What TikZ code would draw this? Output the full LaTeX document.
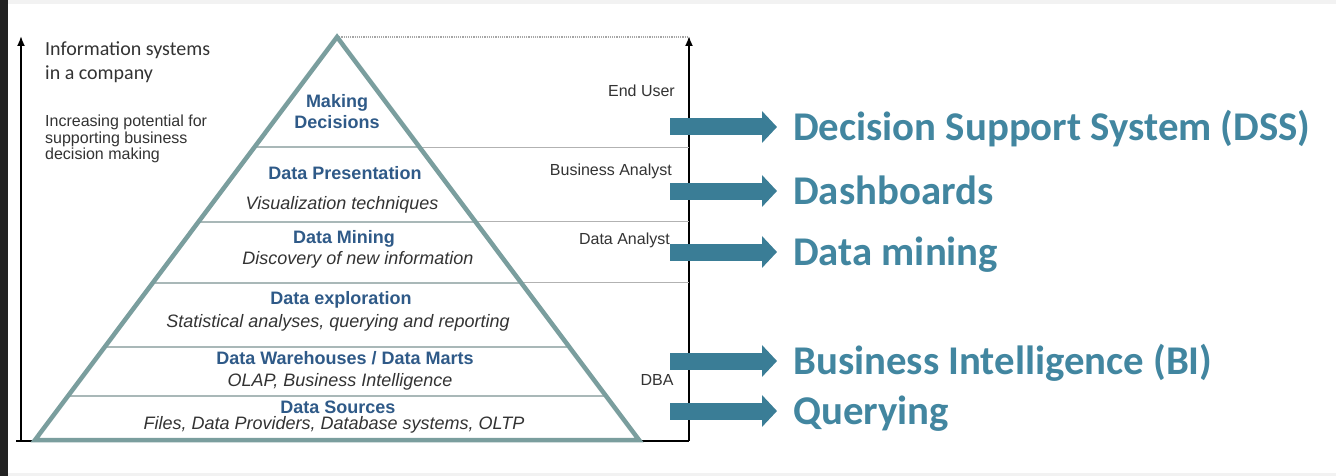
\documentclass[tikz,border=0pt]{standalone}
\usepackage{fontspec}
\setmainfont{Liberation Sans}
\newfontfamily\calfont{Carlito}
\usetikzlibrary{arrows.meta,calc}

\definecolor{pyrgray}{HTML}{7A9E9E}
\definecolor{sepgray}{HTML}{A9B8B8}
\definecolor{lvlblue}{HTML}{2F5A88}
\definecolor{arrteal}{HTML}{3A7D96}
\definecolor{txtteal}{HTML}{4286A0}
\definecolor{txtgray}{HTML}{333333}
\definecolor{framegray}{HTML}{F2F2F2}
\definecolor{framedark}{HTML}{222222}

\begin{document}
\begin{tikzpicture}[x=1pt,y=-1pt,
  pyr/.style={draw=pyrgray, line width=4.5pt},
  sepline/.style={draw=sepgray, line width=1.8pt},
  rowline/.style={draw=gray!60, line width=1pt},
  dotline/.style={draw=gray!70, line width=1.2pt, densely dotted},
  axis/.style={draw=black, line width=1.8pt, -{Latex[length=10pt,width=8pt]}},
  ground/.style={draw=black, line width=1.8pt},
  blkarr/.style={draw=arrteal, line width=17pt, -{Triangle[length=15pt,width=31pt]}},
  lvl/.style={font=\bfseries\fontsize{18}{21}\selectfont, text=lvlblue},
  lvltxt/.style={font=\itshape\fontsize{18}{21}\selectfont, text=txtgray},
  role/.style={font=\fontsize{16}{18}\selectfont, text=txtgray, inner sep=0pt},
  rlbl/.style={anchor=west, inner sep=0pt, text=txtteal,
    font=\calfont\bfseries\fontsize{40.8}{48}\selectfont, text height=32pt, text depth=5pt}]

\useasboundingbox (0,0) rectangle (1336,476);
\fill[white] (0,0) rectangle (1336,476);
\fill[framegray] (0,0) rectangle (1336,4);
\fill[framegray] (0,473) rectangle (1336,476);
\fill[framedark] (0,0) rectangle (8,476);

\coordinate (apex) at (337,37);
\coordinate (bl) at (35,440);
\coordinate (br) at (639,440);
\coordinate (stub) at (16,441);
\coordinate (lbot) at (21,441);
\coordinate (ltop) at (21,36);
\coordinate (rbot) at (689,441);
\coordinate (rtop) at (689,36);

\draw[ground] (stub) -- (rbot);
\draw[axis] (lbot) -- (ltop); % left axis
\draw[axis] (rbot) -- (rtop); % right axis
\draw[dotline] (apex) -- (apex -| rtop);

% rows of the pyramid
\foreach \t in {0.273,0.459,0.6104,0.769,0.891}{
  \draw[sepline] ($(apex)!\t!(bl)$) -- ($(apex)!\t!(br)$);
}
\foreach \t in {0.273,0.459,0.6104}{
  \coordinate (e) at ($(apex)!\t!(br)$);
  \draw[rowline] (e) -- (e -| rtop);
}
\draw[pyr] (apex) -- (br) -- (bl) -- cycle;

\node[anchor=west, align=left, inner sep=0pt, text=txtgray,
  font=\calfont\fontsize{20}{24}\selectfont] (info) at (45,62)
  {Information systems\\in a company};
\node[role, anchor=west, align=left, font=\fontsize{16}{16.5}\selectfont] (pot) at (45,139)
  {Increasing potential for\\supporting business\\decision making};

\node[lvl, align=center] (mkdec) at (337,112) {Making\\Decisions};
\node[lvl] (pres) at (345,173) {Data Presentation};
\node[lvltxt] (prestxt) at (342,205) {Visualization techniques};
\node[lvl] (mine) at (344,239) {Data Mining};
\node[lvltxt] (minetxt) at (358,260) {Discovery of new information};
\node[lvl] (expl) at (341,300) {Data exploration};
\node[lvltxt] (expltxt) at (338,323) {Statistical analyses, querying and reporting};
\node[lvl] (dwh) at (345,358) {Data Warehouses / Data Marts};
\node[lvltxt] (dwhtxt) at (340,382) {OLAP, Business Intelligence};
\node[lvl] (src) at (338,407) {Data Sources};
\node[lvltxt] (srctxt) at (334,425) {Files, Data Providers, Database systems, OLTP};

\node[role, anchor=east] (enduser) at (675,91) {End User};
\node[role, anchor=east] (banalyst) at (672,171) {Business Analyst};
\node[role, anchor=east] (danalyst) at (670,240) {Data Analyst};
\node[role] (dba) at (657,380) {DBA};

% block arrows to the tools
\foreach \y/\name/\txt in {127/dss/Decision Support System (DSS), 191/dash/Dashboards,
  252/dmin/Data mining, 361/bi/Business Intelligence (BI), 411/qry/Querying}{
  \coordinate (s\name) at (670,\y);
  \node[rlbl] (\name) at (793,\y) {\txt};
  \draw[blkarr] (s\name) -- ([xshift=-16pt]\name.west);
}

\end{tikzpicture}
\end{document}
